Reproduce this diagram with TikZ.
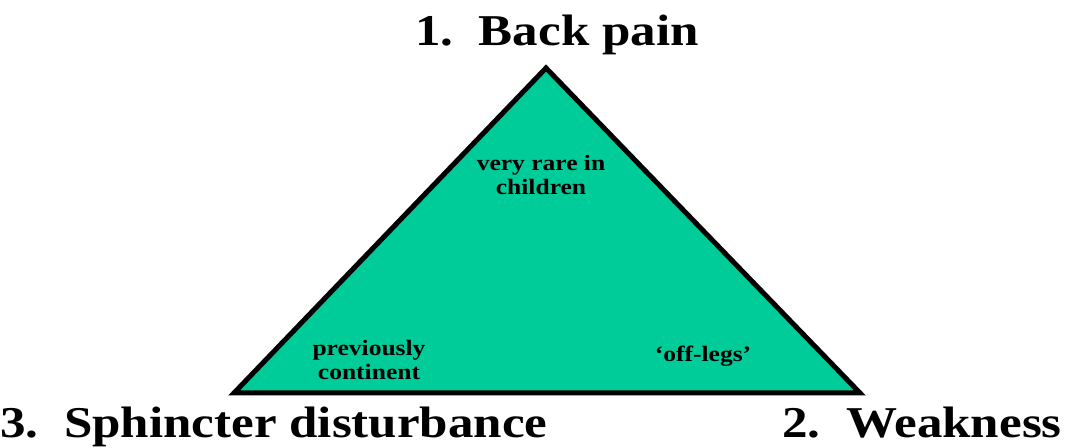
\documentclass[tikz,border=0pt]{standalone}
\usepackage{fontspec}
\setmainfont{Liberation Serif}[FakeStretch=1.16]
\definecolor{teal}{HTML}{00CC99}
\begin{document}
\begin{tikzpicture}[x=0.75pt,y=-0.75pt,
 corner/.style={font=\bfseries\fontsize{33}{36}\selectfont,inner sep=0pt},
 note/.style={font=\bfseries\fontsize{16.5}{18.5}\selectfont,align=center,inner sep=0pt}]
 \useasboundingbox (0,0) rectangle (1066,448);
 % triangle
 \coordinate (top) at (546,68);
 \coordinate (left) at (234,393);
 \coordinate (right) at (860,393);
 \draw[line width=3.75pt,fill=teal,line join=miter] (top)--(right)--(left)--cycle;
 % corner labels
 \node[corner,anchor=base] (pain) at (557,46) {1.~~Back pain};
 \node[corner,anchor=base west] (sphincter) at (0,437) {3.~~Sphincter disturbance};
 \node[corner,anchor=base east] (weak) at (1062,437) {2.~~Weakness};
 % notes inside
 \node[note] (rare) at (541,175) {very rare in\\children};
 \node[note] (continent) at (369,360) {previously\\continent};
 \node[note] (legs) at (703,356) {`off-legs'};
\end{tikzpicture}
\end{document}
